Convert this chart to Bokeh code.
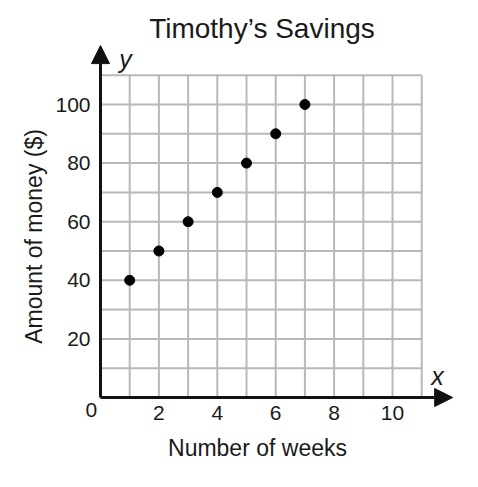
from bokeh.plotting import figure
from bokeh.models import Arrow, NormalHead, Label, FixedTicker, ColumnDataSource
from bokeh.embed import file_html
from bokeh.resources import INLINE

# Data
weeks = [1, 2, 3, 4, 5, 6, 7]
money = [40, 50, 60, 70, 80, 90, 100]

x_ticks = [2, 4, 6, 8, 10]
y_ticks = [20, 40, 60, 80, 100]
grid_x = [1, 2, 3, 4, 5, 6, 7, 8, 9, 10, 11]
grid_y = [10, 20, 30, 40, 50, 60, 70, 80, 90, 100, 110]
x_max = 11
y_max = 110
x_arrow = 12.06
y_arrow = 120.1

title_text = "Timothy\u2019s Savings"
x_label = "Number of weeks"
y_label = "Amount of money ($)"

FONT = "Liberation Sans"
TXT = "#1a1a1a"

p = figure(width=462, height=471, x_range=(-3.4247, 12.397), y_range=(-25.256, 135.495),
           output_backend="svg", toolbar_location=None,
           min_border=0, min_border_left=0, min_border_right=0,
           min_border_top=0, min_border_bottom=0)
p.outline_line_color = None
p.background_fill_color = "white"
p.border_fill_color = "white"
p.xgrid.visible = False
p.ygrid.visible = False

# Grid lines
vsrc = ColumnDataSource(dict(x=grid_x, y0=[0] * len(grid_x), y1=[y_max] * len(grid_x)))
hsrc = ColumnDataSource(dict(y=grid_y, x0=[0] * len(grid_y), x1=[x_max] * len(grid_y)))
p.segment(x0="x", y0="y0", x1="x", y1="y1", source=vsrc, line_color="#b8b8b8", line_width=2)
p.segment(x0="x0", y0="y", x1="x1", y1="y", source=hsrc, line_color="#b8b8b8", line_width=2)

# Axes (fixed at the origin)
for ax in (p.xaxis[0], p.yaxis[0]):
    ax.fixed_location = 0
    ax.axis_line_color = None
    ax.major_tick_line_color = None
    ax.minor_tick_line_color = None
    ax.major_tick_in = 0
    ax.major_tick_out = 0
    ax.minor_tick_in = 0
    ax.minor_tick_out = 0
    ax.major_label_text_font = FONT
    ax.major_label_text_font_size = "21px"
    ax.major_label_text_color = TXT
    ax.axis_label_text_font = FONT
    ax.axis_label_text_font_size = "23px"
    ax.axis_label_text_font_style = "normal"
    ax.axis_label_text_color = TXT

p.xaxis[0].ticker = FixedTicker(ticks=x_ticks)
p.yaxis[0].ticker = FixedTicker(ticks=y_ticks)
p.xaxis[0].bounds = (0, 10.75)
p.yaxis[0].bounds = (0, 110)
p.xaxis[0].axis_label = x_label
p.yaxis[0].axis_label = y_label
p.xaxis[0].major_label_standoff = 8
p.yaxis[0].major_label_standoff = 10
p.xaxis[0].axis_label_standoff = 12
p.yaxis[0].axis_label_standoff = 5

# Axis arrows
p.add_layout(Arrow(x_start=0, y_start=0, x_end=x_arrow, y_end=0,
                   line_width=3, line_color="#111111",
                   end=NormalHead(size=18, fill_color="#111111", line_color="#111111")))
p.add_layout(Arrow(x_start=0, y_start=0, x_end=0, y_end=y_arrow,
                   line_width=3, line_color="#111111",
                   end=NormalHead(size=18, fill_color="#111111", line_color="#111111")))

# Points
p.scatter(weeks, money, size=10, fill_color="black", line_color="black")

# Labels
p.add_layout(Label(x=5.53, y=125.9, text=title_text, text_align="center",
                   text_baseline="alphabetic", text_font=FONT, text_font_size="28px",
                   text_color=TXT))
p.add_layout(Label(x=-0.31, y=-4.4, text="0", text_align="center", text_baseline="middle",
                   text_font=FONT, text_font_size="21px", text_color=TXT))
p.add_layout(Label(x=0.86, y=115.4, text="y", text_align="center", text_baseline="middle",
                   text_font=FONT, text_font_size="25px", text_font_style="italic",
                   text_color=TXT))
p.add_layout(Label(x=11.54, y=7.5, text="x", text_align="center", text_baseline="middle",
                   text_font=FONT, text_font_size="25px", text_font_style="italic",
                   text_color=TXT))

open("out.html", "w").write(file_html(p, INLINE))
